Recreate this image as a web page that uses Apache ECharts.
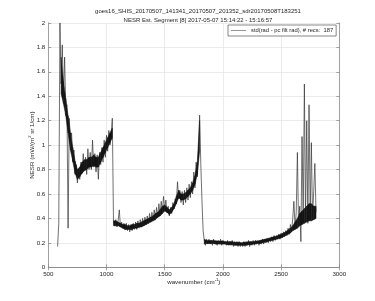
<!DOCTYPE html>
<html>
<head>
<meta charset="utf-8">
<script src="https://cdn.jsdelivr.net/npm/echarts@6/dist/echarts.min.js"></script>
<style>
html,body{margin:0;padding:0;background:#fff;}
#c{width:375px;height:301px;}
</style>
</head>
<body>
<div id="c"></div>
<script>
var titleLines = ['goes16_SHIS_20170507_141341_20170507_201352_sdr20170508T183251',
  'NESR Est. Segment [8] 2017-05-07 15:14:22 - 15:16:57'];
var seriesName = 'std(rad - pc filt rad), # recs:  187';
var xTicks = [500, 1000, 1500, 2000, 2500, 3000];
var yTicks = [0, 0.2, 0.4, 0.6, 0.8, 1, 1.2, 1.4, 1.6, 1.8, 2];

// full noisy trace (outer envelope incl. spikes), every 10 cm-1 from 580
var wnStart = 580;
var wnStep = 10;
var nesr = [
  0.17, 0.36, 2.0, 1.5, 1.82, 1.38, 1.72, 1.3, 1.33, 0.32,
  1.22, 1.02, 1.1, 0.86, 0.96, 0.76, 0.84, 0.69, 0.8, 0.72,
  0.86, 0.77, 0.93, 0.8, 0.9, 0.76, 0.97, 0.8, 0.94, 0.8,
  1.04, 0.82, 0.93, 0.78, 0.92, 0.72, 0.94, 0.84, 0.98, 0.86,
  1.04, 0.9, 1.08, 0.95, 1.12, 1.0, 1.08, 1.22, 0.38, 0.34,
  0.39, 0.33, 0.38, 0.47, 0.33, 0.37, 0.32, 0.36, 0.31, 0.36,
  0.3, 0.35, 0.29, 0.35, 0.3, 0.36, 0.31, 0.37, 0.31, 0.38,
  0.32, 0.39, 0.33, 0.4, 0.34, 0.41, 0.35, 0.42, 0.36, 0.44,
  0.37, 0.45, 0.39, 0.47, 0.4, 0.49, 0.41, 0.52, 0.43, 0.54,
  0.46, 0.58, 0.47, 0.55, 0.45, 0.5, 0.42, 0.49, 0.44, 0.53,
  0.48, 0.56, 0.52, 0.7, 0.56, 0.63, 0.53, 0.62, 0.51, 0.63,
  0.53, 0.65, 0.55, 0.68, 0.57, 0.7, 0.6, 0.78, 0.65, 0.86,
  0.74, 0.95, 1.245, 0.85, 0.55, 0.3, 0.22, 0.18, 0.23, 0.19,
  0.23, 0.19, 0.22, 0.18, 0.23, 0.19, 0.22, 0.18, 0.22, 0.19,
  0.23, 0.18, 0.22, 0.19, 0.21, 0.18, 0.22, 0.18, 0.21, 0.18,
  0.22, 0.17, 0.21, 0.18, 0.21, 0.17, 0.21, 0.17, 0.2, 0.17,
  0.21, 0.17, 0.21, 0.18, 0.22, 0.17, 0.21, 0.18, 0.22, 0.18,
  0.22, 0.19, 0.22, 0.18, 0.22, 0.19, 0.23, 0.19, 0.23, 0.2,
  0.23, 0.2, 0.24, 0.21, 0.25, 0.21, 0.26, 0.22, 0.26, 0.23,
  0.27, 0.23, 0.28, 0.24, 0.29, 0.25, 0.3, 0.26, 0.32, 0.27,
  0.35, 0.29, 0.4, 0.54, 0.32, 0.45, 0.94, 0.34, 0.5, 0.21,
  1.07, 0.38, 1.5, 0.4, 1.2, 0.36, 1.33, 0.42, 1.02, 0.4,
  0.62, 0.85, 0.45
];

// dense core of the trace, every 20 cm-1, three pieces
var coreStep = 20;
var coreStartA = 610;
var coreLoA = [1.42, 1.34, 1.24, 1.1, 0.96, 0.87, 0.77, 0.72, 0.74, 0.77, 0.79, 0.8,
  0.82, 0.82, 0.83, 0.82, 0.82, 0.86, 0.9, 0.94, 0.98, 1.02, 1.06];
var coreHiA = [1.72, 1.52, 1.38, 1.24, 1.1, 0.98, 0.87, 0.8, 0.82, 0.86, 0.88, 0.88,
  0.9, 0.9, 0.92, 0.9, 0.9, 0.94, 0.98, 1.02, 1.06, 1.1, 1.14];
var coreStartB = 1060;
var coreLoB = [0.34, 0.34, 0.34, 0.33, 0.32, 0.31, 0.31, 0.31, 0.31, 0.32, 0.32, 0.33,
  0.33, 0.34, 0.35, 0.36, 0.37, 0.38, 0.39, 0.41, 0.42, 0.44, 0.46, 0.45, 0.43, 0.45,
  0.48, 0.52, 0.57, 0.55, 0.55, 0.56, 0.58, 0.6, 0.63, 0.68, 0.76, 0.95];
var coreHiB = [0.38, 0.38, 0.37, 0.36, 0.35, 0.35, 0.34, 0.34, 0.35, 0.35, 0.36, 0.36,
  0.37, 0.38, 0.39, 0.4, 0.41, 0.42, 0.44, 0.45, 0.47, 0.5, 0.51, 0.49, 0.47, 0.49,
  0.52, 0.58, 0.63, 0.6, 0.6, 0.61, 0.63, 0.65, 0.69, 0.75, 0.86, 1.2];
var coreStartC = 1840;
var coreLoC = [0.19, 0.195, 0.195, 0.195, 0.195, 0.19, 0.19, 0.19, 0.19, 0.19, 0.185, 0.185,
  0.185, 0.18, 0.18, 0.18, 0.18, 0.18, 0.18, 0.185, 0.185, 0.19, 0.19, 0.195, 0.195, 0.2,
  0.205, 0.21, 0.215, 0.22, 0.225, 0.23, 0.235, 0.24, 0.25, 0.26, 0.27, 0.28,
  0.3, 0.31, 0.32, 0.34, 0.35, 0.36, 0.37, 0.38, 0.38, 0.39, 0.4];
var coreHiC = [0.23, 0.22, 0.22, 0.22, 0.22, 0.215, 0.215, 0.215, 0.215, 0.21, 0.21, 0.21,
  0.21, 0.205, 0.205, 0.205, 0.2, 0.205, 0.205, 0.21, 0.21, 0.21, 0.215, 0.215, 0.22, 0.225,
  0.23, 0.235, 0.24, 0.245, 0.25, 0.255, 0.265, 0.27, 0.28, 0.29, 0.305, 0.32,
  0.34, 0.37, 0.4, 0.44, 0.46, 0.48, 0.5, 0.52, 0.52, 0.5, 0.5];

var data = nesr.map(function (v, i) { return [wnStart + i * wnStep, v]; });

function bandItems(start, lo, hi) {
  var out = [];
  for (var i = 0; i < lo.length - 1; i++) {
    out.push([start + i * coreStep, lo[i], hi[i], start + (i + 1) * coreStep, lo[i + 1], hi[i + 1]]);
  }
  return out;
}
var bandData = [].concat(
  bandItems(coreStartA, coreLoA, coreHiA),
  bandItems(coreStartB, coreLoB, coreHiB),
  bandItems(coreStartC, coreLoC, coreHiC)
);

var FONT = 'Liberation Sans';
var txt = '#262626';
var axisCol = '#8c8c8c';
var gridCol = '#e6e6e6';
var fmt = function (v) { return String(v); };

var chart = echarts.init(document.getElementById('c'), null, {renderer: 'canvas'});
var tickLen = 3;
chart.setOption({
  animation: false,
  backgroundColor: '#fff',
  title: {
    text: titleLines.join('\n'),
    left: 193, top: 2, textAlign: 'center',
    textStyle: {fontFamily: FONT, fontSize: 6, fontWeight: 'normal', color: txt, lineHeight: 9}
  },
  legend: {
    data: [{name: seriesName, icon: 'rect'}],
    left: 228, top: 25,
    orient: 'horizontal',
    itemWidth: 15, itemHeight: 0.7, itemGap: 2,
    padding: [2.5, 3, 2.5, 3],
    backgroundColor: '#fff',
    borderColor: '#555', borderWidth: 0.7, borderRadius: 0,
    textStyle: {fontFamily: FONT, fontSize: 5.8, color: txt, padding: [0, 0, 0, 0]}
  },
  grid: {left: 48.3, right: 35.7, top: 22.9, bottom: 33.7, show: false},
  xAxis: [{
    type: 'value', min: 500, max: 3000, interval: 500, position: 'bottom',
    name: 'wavenumber (cm{s|-1})', nameLocation: 'middle', nameGap: 11, nameMoveOverlap: false,
    nameTextStyle: {fontFamily: FONT, fontSize: 6.2, color: txt,
      rich: {s: {fontFamily: FONT, fontSize: 4.2, color: txt, verticalAlign: 'top', padding: [0, 0, 4, 0]}}},
    axisLine: {show: true, lineStyle: {color: axisCol, width: 0.8}},
    axisTick: {show: true, inside: true, length: tickLen, lineStyle: {color: axisCol, width: 0.8}},
    axisLabel: {fontFamily: FONT, fontSize: 6.2, color: txt, margin: 4, formatter: fmt},
    splitLine: {show: true, lineStyle: {color: gridCol, width: 0.8}}
  }, {
    type: 'value', min: 500, max: 3000, interval: 500, position: 'top',
    axisLine: {show: true, lineStyle: {color: axisCol, width: 0.8}},
    axisTick: {show: true, inside: true, length: tickLen, lineStyle: {color: axisCol, width: 0.8}},
    axisLabel: {show: false}, splitLine: {show: false}
  }],
  yAxis: [{
    type: 'value', min: 0, max: 2, interval: 0.2, position: 'left',
    name: 'NESR (mW/(m{s|2} sr 1/cm)', nameLocation: 'middle', nameGap: 12, nameRotate: 90, nameMoveOverlap: false,
    nameTextStyle: {fontFamily: FONT, fontSize: 6.2, color: txt,
      rich: {s: {fontFamily: FONT, fontSize: 4.2, color: txt, verticalAlign: 'top', padding: [0, 0, 4, 0]}}},
    axisLine: {show: true, lineStyle: {color: axisCol, width: 0.8}},
    axisTick: {show: true, inside: true, length: tickLen, lineStyle: {color: axisCol, width: 0.8}},
    axisLabel: {fontFamily: FONT, fontSize: 6.2, color: txt, margin: 3, formatter: fmt},
    splitLine: {show: true, lineStyle: {color: gridCol, width: 0.8}}
  }, {
    type: 'value', min: 0, max: 2, interval: 0.2, position: 'right',
    axisLine: {show: true, lineStyle: {color: axisCol, width: 0.8}},
    axisTick: {show: true, inside: true, length: tickLen, lineStyle: {color: axisCol, width: 0.8}},
    axisLabel: {show: false}, splitLine: {show: false}
  }],
  series: [{
    name: seriesName,
    type: 'line',
    data: data,
    xAxisIndex: 0, yAxisIndex: 0,
    showSymbol: false,
    symbol: 'none',
    lineStyle: {color: '#333', width: 0.7},
    itemStyle: {color: '#666'},
    clip: true,
    z: 2
  }, {
    name: 'core',
    type: 'custom',
    xAxisIndex: 0, yAxisIndex: 0,
    data: bandData,
    encode: {x: [0, 3], y: [1, 2, 4, 5]},
    renderItem: function (params, api) {
      var p0 = api.coord([api.value(0), api.value(1)]);
      var p1 = api.coord([api.value(3), api.value(4)]);
      var p2 = api.coord([api.value(3), api.value(5)]);
      var p3 = api.coord([api.value(0), api.value(2)]);
      return {
        type: 'polygon',
        shape: {points: [p0, p1, p2, p3]},
        style: {fill: '#151515', stroke: '#151515', lineWidth: 0.5}
      };
    },
    clip: true,
    silent: true,
    z: 3
  }]
});
</script>
</body>
</html>
